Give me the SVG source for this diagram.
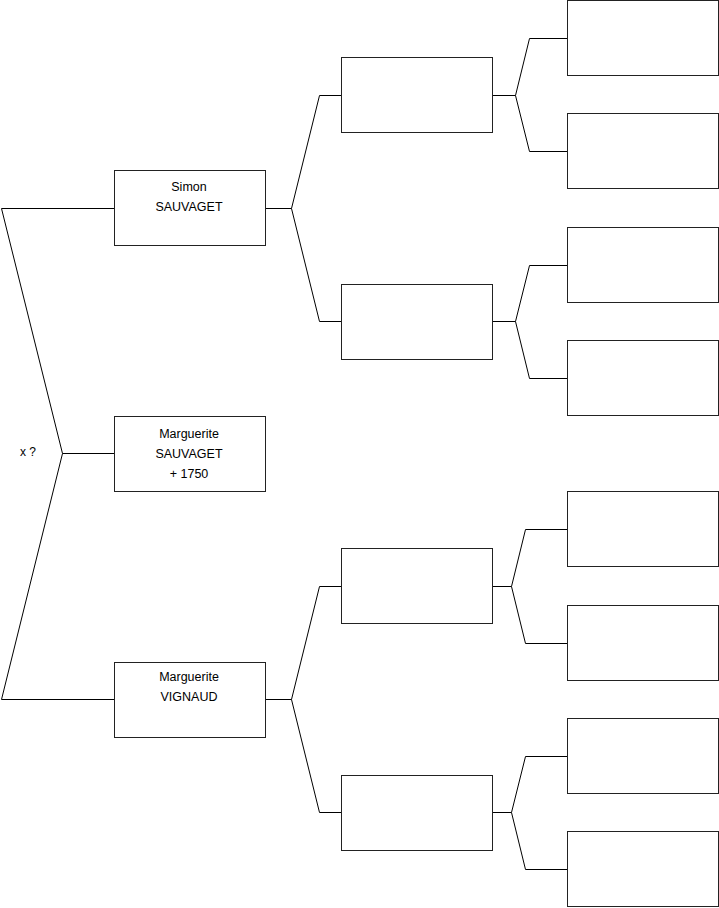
<svg xmlns="http://www.w3.org/2000/svg" width="719" height="908" viewBox="0 0 719 908">
<style>
.box{fill:#fff;stroke:#222;stroke-width:1}
.ln{fill:none;stroke:#000;stroke-width:1}
text{font-family:"Liberation Sans",Arial,sans-serif;font-size:12.5px;fill:#000;text-anchor:middle}
</style>
<rect width="719" height="908" fill="#fff"/>
<g id="connectors">
<polyline class="ln" points="114,208.5 1.5,208.5 62.5,453.5 114,453.5"/>
<polyline class="ln" points="62.5,453.5 1.5,699.5 114,699.5"/>
<polyline class="ln" points="265,208.5 291.5,208.5 319.5,95.5 341,95.5"/>
<polyline class="ln" points="291.5,208.5 319.5,321.5 341,321.5"/>
<polyline class="ln" points="265,699.5 291.5,699.5 319.5,586.5 341,586.5"/>
<polyline class="ln" points="291.5,699.5 319.5,812.5 341,812.5"/>
<polyline class="ln" points="492,95.5 515.5,95.5 529.5,38.5 567,38.5"/>
<polyline class="ln" points="515.5,95.5 529.5,151.5 567,151.5"/>
<polyline class="ln" points="492,321.5 515.5,321.5 529.5,265.5 567,265.5"/>
<polyline class="ln" points="515.5,321.5 529.5,378.5 567,378.5"/>
<polyline class="ln" points="492,586.5 511.5,586.5 525.5,529.5 567,529.5"/>
<polyline class="ln" points="511.5,586.5 525.5,643.5 567,643.5"/>
<polyline class="ln" points="492,812.5 511.5,812.5 525.5,756.5 567,756.5"/>
<polyline class="ln" points="511.5,812.5 525.5,869.5 567,869.5"/>
</g>
<text x="28" y="456" style="font-size:12px">x ?</text>
<g id="simon"><rect class="box" x="114.5" y="170.5" width="151" height="75"/><text x="189" y="191">Simon</text><text x="189" y="211">SAUVAGET</text></g>
<g id="marguerite-sauvaget"><rect class="box" x="114.5" y="416.5" width="151" height="75"/><text x="189" y="438">Marguerite</text><text x="189" y="458">SAUVAGET</text><text x="189" y="478">+ 1750</text></g>
<g id="marguerite-vignaud"><rect class="box" x="114.5" y="662.5" width="151" height="75"/><text x="189" y="681">Marguerite</text><text x="189" y="701">VIGNAUD</text></g>
<g id="g2a"><rect class="box" x="341.5" y="57.5" width="151" height="75"/></g>
<g id="g2b"><rect class="box" x="341.5" y="284.5" width="151" height="75"/></g>
<g id="g2c"><rect class="box" x="341.5" y="548.5" width="151" height="75"/></g>
<g id="g2d"><rect class="box" x="341.5" y="775.5" width="151" height="75"/></g>
<g id="g3a"><rect class="box" x="567.5" y="0.5" width="151" height="75"/></g>
<g id="g3b"><rect class="box" x="567.5" y="113.5" width="151" height="75"/></g>
<g id="g3c"><rect class="box" x="567.5" y="227.5" width="151" height="75"/></g>
<g id="g3d"><rect class="box" x="567.5" y="340.5" width="151" height="75"/></g>
<g id="g3e"><rect class="box" x="567.5" y="491.5" width="151" height="75"/></g>
<g id="g3f"><rect class="box" x="567.5" y="605.5" width="151" height="75"/></g>
<g id="g3g"><rect class="box" x="567.5" y="718.5" width="151" height="75"/></g>
<g id="g3h"><rect class="box" x="567.5" y="831.5" width="151" height="75"/></g>
</svg>
